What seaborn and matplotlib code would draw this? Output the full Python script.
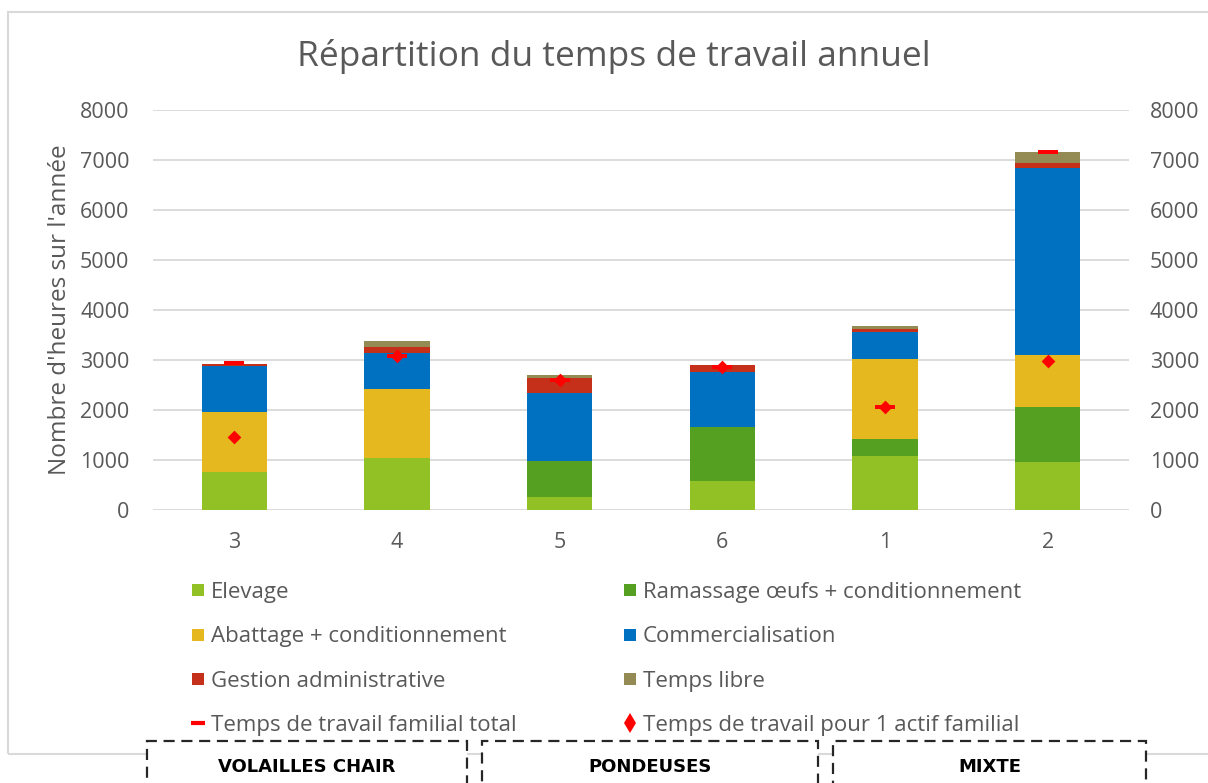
import numpy as np
import pandas as pd
import seaborn as sns
import matplotlib.pyplot as plt
from matplotlib.lines import Line2D
from matplotlib.patches import Rectangle
from matplotlib.path import Path

# --- data (hours per year) ---
fermes = ["3", "4", "5", "6", "1", "2"]
elevage = [760, 1030, 250, 570, 1070, 960]
ramassage = [0, 0, 730, 1090, 350, 1090]
abattage = [1190, 1380, 0, 0, 1590, 1040]
commercialisation = [920, 720, 1350, 1090, 550, 3740]
gestion = [50, 130, 300, 150, 60, 100]
temps_libre = [0, 110, 70, 0, 50, 230]
travail_familial_total = [2930, 3070, 2600, 2860, 2050, 7150]
travail_1_actif = [1460, 3070, 2600, 2860, 2050, 2980]

series = ["Elevage", "Ramassage œufs + conditionnement", "Abattage + conditionnement",
          "Commercialisation", "Gestion administrative", "Temps libre"]
colors = ["#92C126", "#55A021", "#E6B820", "#0070C0", "#C5301A", "#948A54"]
groupes = ["VOLAILLES CHAIR", "PONDEUSES", "MIXTE"]

df = pd.DataFrame({"ferme": fermes, "Elevage": elevage,
                   "Ramassage œufs + conditionnement": ramassage,
                   "Abattage + conditionnement": abattage,
                   "Commercialisation": commercialisation,
                   "Gestion administrative": gestion, "Temps libre": temps_libre})
cum = df[series].cumsum(axis=1)
cum["ferme"] = fermes

TXT = "#595959"
sns.set_theme(style="white")
plt.rcParams["font.family"] = ["Open Sans", "DejaVu Sans"]

fig = plt.figure(figsize=(12.08, 7.83), dpi=100)
W, H = 1208, 783
ax = fig.add_axes([153 / W, 1 - 510 / H, (1129 - 153) / W, 400 / H])

# stacked bars: draw cumulative heights from top layer down
for name, col in reversed(list(zip(series, colors))):
    sns.barplot(data=cum, x="ferme", y=name, order=fermes, color=col,
                saturation=1, width=0.4, errorbar=None, linewidth=0, ax=ax)

dash = Path([(-1, -0.2), (1, -0.2), (1, 0.2), (-1, 0.2), (-1, -0.2)],
            [Path.MOVETO, Path.LINETO, Path.LINETO, Path.LINETO, Path.CLOSEPOLY])
sns.stripplot(x=fermes, y=travail_familial_total, order=fermes, jitter=False,
              marker=dash, size=14, color="#FF0000", linewidth=0, ax=ax, zorder=5)
sns.stripplot(x=fermes, y=travail_1_actif, order=fermes, jitter=False,
              marker="D", size=7, color="#FF0000", linewidth=0, ax=ax, zorder=6)

ax.set_ylim(0, 8000)
ax.set_xlim(-0.5, 5.5)
ax.set_yticks(range(0, 8001, 1000))
ax.yaxis.grid(True, color="#D9D9D9", linewidth=1.3)
ax.set_axisbelow(True)
for s in ax.spines.values():
    s.set_visible(False)
ax.tick_params(axis="y", length=0, pad=17, labelsize=15.5, labelcolor=TXT)
ax.tick_params(axis="x", length=0, pad=16, labelsize=15.5, labelcolor=TXT)
ax.set_xlabel("")
ax.set_ylabel("Nombre d'heures sur l'année", fontsize=17.5, color=TXT)
ax.yaxis.set_label_coords(-0.083, 0.5)

ax2 = ax.twinx()
ax2.set_ylim(0, 8000)
ax2.set_yticks(range(0, 8001, 1000))
for s in ax2.spines.values():
    s.set_visible(False)
ax2.tick_params(axis="y", length=0, pad=15, labelsize=15.5, labelcolor=TXT)
ax2.grid(False)

fig.text(614 / W, 1 - 56 / H, "Répartition du temps de travail annuel",
         ha="center", va="center", fontsize=25.5, color=TXT)

# outer chart frame
fig.add_artist(Rectangle((8 / W, 1 - 754 / H), 1.0, (754 - 12) / H,
                         transform=fig.transFigure, fill=False,
                         edgecolor="#D9D9D9", linewidth=1.5))

# legend (two columns)
def sq(c):
    return Line2D([], [], marker="s", linestyle="none", markersize=9,
                  markerfacecolor=c, markeredgewidth=0)

h_tot = Line2D([], [], marker="_", linestyle="none", markersize=10,
               markeredgewidth=3, color="#FF0000")
h_act = Line2D([], [], marker="d", linestyle="none", markersize=10,
               markeredgewidth=0, color="#FF0000")
col1 = [(sq(colors[0]), series[0]), (sq(colors[2]), series[2]),
        (sq(colors[4]), series[4]), (h_tot, "Temps de travail familial total")]
col2 = [(sq(colors[1]), series[1]), (sq(colors[3]), series[3]),
        (sq(colors[5]), series[5]), (h_act, "Temps de travail pour 1 actif familial")]
for x0, items in [(191, col1), (623, col2)]:
    fig.legend([h for h, _ in items], [l for _, l in items], loc="upper left",
               bbox_to_anchor=(x0 / W, 1 - 582 / H), frameon=False,
               fontsize=16, labelcolor=TXT, handlelength=0.6, handletextpad=0.3,
               labelspacing=1.05, borderpad=0, borderaxespad=0)

# group boxes under the chart
for (x0, x1), g in zip([(147, 467), (482, 818), (833, 1146)], groupes):
    fig.add_artist(Rectangle((x0 / W, -0.05), (x1 - x0) / W, 0.05 + (1 - 741 / H),
                             transform=fig.transFigure, facecolor="white",
                             edgecolor="#262626", linewidth=1.6, linestyle=(0, (5, 3))))
    fig.text((x0 + x1) / 2 / W, 1 - 767 / H, g, ha="center", va="center",
             fontsize=13, fontweight="bold", color="black",
             family=["Liberation Sans Narrow", "DejaVu Sans"])

fig.savefig("out.png", dpi=100)
